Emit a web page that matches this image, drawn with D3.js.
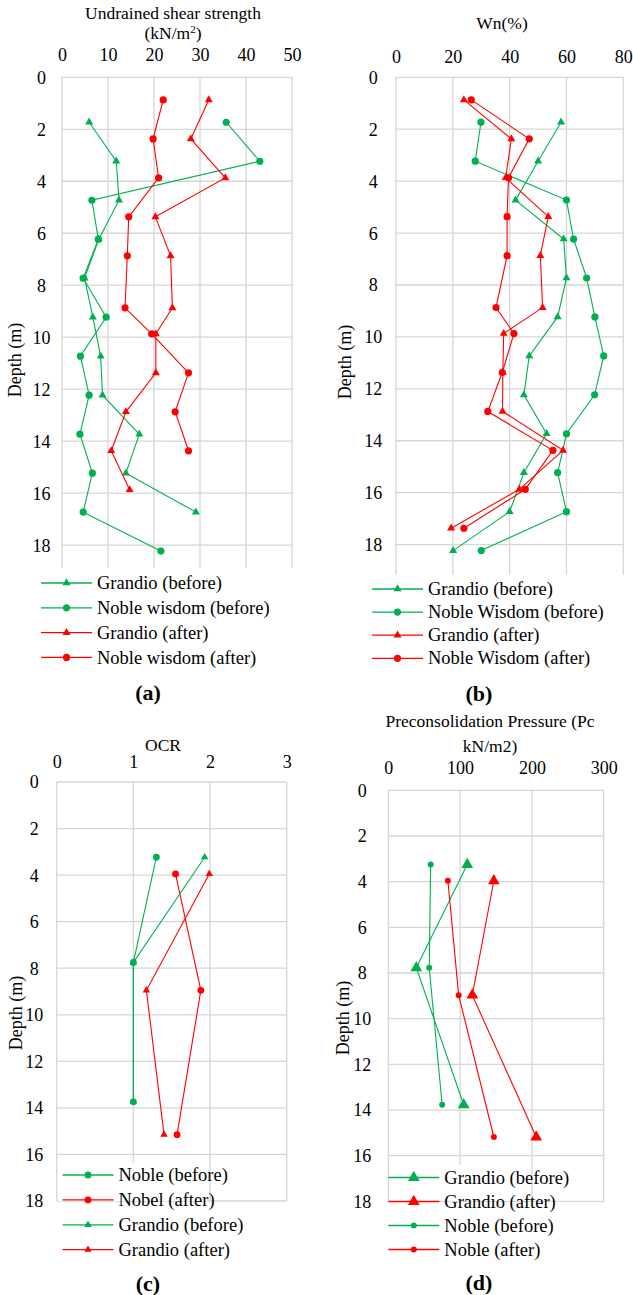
<!DOCTYPE html>
<html>
<head>
<meta charset="utf-8">
<script src="https://cdn.jsdelivr.net/npm/d3@7"></script>
<style>
  body { margin: 0; background: #fff; }
  svg, svg text { font-family: "Liberation Serif", Tinos, "Times New Roman", "DejaVu Serif", serif; }
</style>
</head>
<body>
<svg width="633" height="1295"></svg>
<script>
// ---- data ----
const depthTicks = [0, 2, 4, 6, 8, 10, 12, 14, 16, 18];

// (a) undrained shear strength
const depthBeforeA = [1.73, 3.23, 4.73, 6.23, 7.73, 9.23, 10.73, 12.23, 13.73, 15.23, 16.73, 18.23];
const depthAfterA = [0.87, 2.37, 3.87, 5.37, 6.87, 8.87, 9.87, 11.37, 12.87, 14.37, 15.87];
const suGrandioBefore = [5.9, 11.8, 12.4, 8.0, 4.9, 6.7, 8.4, 8.8, 16.8, 13.9, 29.1];
const suNobleBefore = [35.7, 43.0, 6.5, 7.9, 4.6, 9.6, 4.0, 5.9, 3.9, 6.6, 4.6, 21.5];
const suGrandioAfter = [31.9, 28.0, 35.5, 20.3, 23.6, 24.0, 20.4, 20.4, 13.9, 10.7, 14.7];
const suNobleAfter = [22.0, 19.8, 21.0, 14.5, 14.2, 13.7, 19.5, 27.5, 24.6, 27.5];
const suTicks = [0, 10, 20, 30, 40, 50];

// (b) water content
const depthBeforeB = [1.73, 3.23, 4.73, 6.23, 7.73, 9.23, 10.73, 12.23, 13.73, 15.23, 16.73, 18.23];
const depthAfterB = [0.87, 2.37, 3.87, 5.37, 6.87, 8.87, 9.87, 11.37, 12.87, 14.37, 15.87, 17.37];
const wnGrandioBefore = [58.1, 50.0, 42.1, 59.0, 60.0, 56.9, 46.9, 45.0, 53.0, 45.0, 40.0, 20.1];
const wnNobleBefore = [29.9, 27.9, 60.0, 62.5, 67.1, 70.0, 73.1, 69.9, 60.0, 56.9, 60.0, 30.0];
const wnGrandioAfter = [23.9, 40.6, 38.6, 53.6, 50.8, 51.6, 37.9, 37.6, 37.5, 58.8, 43.4, 19.4];
const wnNobleAfter = [26.5, 46.9, 39.6, 39.1, 39.1, 35.2, 41.5, 37.4, 32.3, 55.2, 45.5, 23.9];
const wnTicks = [0, 20, 40, 60, 80];

// (c) OCR
const depthBeforeC = [3.23, 7.75, 13.74];
const depthAfterC = [3.95, 8.95, 15.15];
const ocrNobleBefore = [1.30, 1.0, 1.0];
const ocrGrandioBefore = [1.93, 1.0, 1.0];
const ocrNobleAfter = [1.55, 1.88, 1.57];
const ocrGrandioAfter = [1.99, 1.17, 1.40];
const ocrTicks = [0, 1, 2, 3];

// (d) preconsolidation pressure
const depthBeforeD = [3.25, 7.77, 13.77];
const depthAfterD = [3.96, 8.97, 15.18];
const pcGrandioBefore = [110, 39, 105];
const pcGrandioAfter = [147, 117, 206];
const pcNobleBefore = [59, 57, 75];
const pcNobleAfter = [83, 98, 147];
const pcTicks = [0, 100, 200, 300];

const GREEN = "#00b050";
const RED = "#ff0000";
const GRID = "#d6d6d6";
const FONT = "'Liberation Serif', Tinos, 'Times New Roman', 'DejaVu Serif', serif";

const svg = d3.select("svg").attr("font-family", FONT);

function pts(values, depths) {
    return values.map((v, i) => ({v: v, d: depths[i]}));
}

function drawPanel(p) {
    const g = svg.append("g");
    const x = d3.scaleLinear().domain([p.xTicks[0], p.xTicks[p.xTicks.length - 1]]).range([p.left, p.right]);
    const y = d3.scaleLinear().domain([0, p.yMax]).range([p.top, p.bottom]);

    // grid
    g.selectAll(".vg").data(p.xTicks).join("line")
        .attr("x1", d => x(d)).attr("x2", d => x(d))
        .attr("y1", p.top).attr("y2", p.bottom)
        .attr("stroke", GRID).attr("stroke-width", 1.3);
    g.selectAll(".hg").data(depthTicks.filter(d => d <= p.yMax)).join("line")
        .attr("x1", p.left).attr("x2", p.right)
        .attr("y1", d => y(d)).attr("y2", d => y(d))
        .attr("stroke", GRID).attr("stroke-width", 1.3);

    // axes labels
    const fmt = d3.format("d");
    const top = g.append("g").attr("transform", `translate(0,${p.top})`)
        .call(d3.axisTop(x).tickValues(p.xTicks).tickFormat(fmt).tickSize(0).tickPadding(p.topPad));
    const left = g.append("g").attr("transform", `translate(${p.left},0)`)
        .call(d3.axisLeft(y).tickValues(depthTicks).tickFormat(fmt).tickSize(0));
    [top, left].forEach(a => {
        a.attr("font-family", FONT).attr("font-size", 18);
        a.select(".domain").remove();
        a.selectAll("text").attr("fill", "#000");
    });
    left.selectAll("text").attr("text-anchor", "middle").attr("x", -p.leftOff).attr("dy", "0.33em");

    // titles
    p.title.forEach((t, i) => {
        const tx = g.append("text").attr("x", p.titleX).attr("y", p.titleY[i])
            .attr("text-anchor", "middle").attr("font-size", 17.5);
        t.forEach(part => {
            const s = tx.append("tspan").text(part.s);
            if (part.sup) s.attr("baseline-shift", "super").attr("font-size", 11);
        });
    });
    g.append("text")
        .attr("transform", `translate(${p.depthX},${p.depthY}) rotate(-90)`)
        .attr("text-anchor", "middle").attr("dy", "0.33em")
        .attr("font-size", 18).text("Depth (m)");

    // series
    const line = d3.line().x(d => x(d.v)).y(d => y(d.d));
    p.series.forEach(s => {
        const data = pts(s.values, s.depths);
        g.append("path").attr("d", line(data))
            .attr("fill", "none").attr("stroke", s.color).attr("stroke-width", 1.1);
        drawMarkers(g, data.map(d => [x(d.v), y(d.d)]), s);
    });

    // legend
    const lg = g.append("g");
    if (p.legendBg) {
        lg.append("rect").attr("x", p.legendBg[0]).attr("y", p.legendBg[1])
            .attr("width", p.legendBg[2]).attr("height", p.legendBg[3]).attr("fill", "#fff");
    }
    p.legend.forEach((k, i) => {
        const s = p.series[k];
        const ly = p.legendY + i * p.legendStep;
        lg.append("line").attr("x1", p.legendX).attr("x2", p.legendX + 51)
            .attr("y1", ly).attr("y2", ly).attr("stroke", s.color).attr("stroke-width", 1.3);
        drawMarkers(lg, [[p.legendX + 25.5, ly]], s);
        lg.append("text").attr("x", p.legendX + 56).attr("y", ly).attr("dy", "0.33em")
            .attr("font-size", 18.5).text(s.name);
    });

    g.append("text").attr("x", p.capX).attr("y", p.capY).attr("dy", "0.35em")
        .attr("text-anchor", "middle").attr("font-size", 22).attr("font-weight", "bold")
        .text(p.caption);
}

function drawMarkers(g, xy, s) {
    if (s.shape === "circle") {
        g.selectAll(null).data(xy).join("circle")
            .attr("cx", d => d[0]).attr("cy", d => d[1]).attr("r", s.size)
            .attr("fill", s.color);
    } else {
        const sym = d3.symbol().type(d3.symbolTriangle).size(s.size);
        g.selectAll(null).data(xy).join("path")
            .attr("d", sym).attr("transform", d => `translate(${d[0]},${d[1]})`)
            .attr("fill", s.color);
    }
}

drawPanel({
    left: 62, right: 292, top: 77.3, bottom: 568, yMax: 18.88, xTicks: suTicks,
    topPad: 16, leftOff: 20.5,
    title: [[{s: "Undrained shear strength"}], [{s: "(kN/m"}, {s: "2", sup: true}, {s: ")"}]],
    titleX: 173, titleY: [19, 39],
    depthX: 15, depthY: 360,
    series: [
        {name: "Grandio (before)", values: suGrandioBefore, depths: depthBeforeA, color: GREEN, shape: "tri", size: 28},
        {name: "Noble wisdom (before)", values: suNobleBefore, depths: depthBeforeA, color: GREEN, shape: "circle", size: 3.6},
        {name: "Grandio (after)", values: suGrandioAfter, depths: depthAfterA, color: RED, shape: "tri", size: 28},
        {name: "Noble wisdom (after)", values: suNobleAfter, depths: depthAfterA, color: RED, shape: "circle", size: 3.6}
    ],
    legend: [0, 1, 2, 3], legendX: 41, legendY: 583, legendStep: 24.8,
    caption: "(a)", capX: 148, capY: 692
});

drawPanel({
    left: 396, right: 623.3, top: 77.3, bottom: 575, yMax: 19.17, xTicks: wnTicks,
    topPad: 14, leftOff: 22.7,
    title: [[{s: "Wn(%)"}]],
    titleX: 502, titleY: [29],
    depthX: 345, depthY: 362,
    series: [
        {name: "Grandio (before)", values: wnGrandioBefore, depths: depthBeforeB, color: GREEN, shape: "tri", size: 28},
        {name: "Noble Wisdom (before)", values: wnNobleBefore, depths: depthBeforeB, color: GREEN, shape: "circle", size: 3.6},
        {name: "Grandio (after)", values: wnGrandioAfter, depths: depthAfterB, color: RED, shape: "tri", size: 28},
        {name: "Noble Wisdom (after)", values: wnNobleAfter, depths: depthAfterB, color: RED, shape: "circle", size: 3.6}
    ],
    legend: [0, 1, 2, 3], legendX: 372, legendY: 589, legendStep: 23.1,
    caption: "(b)", capX: 479, capY: 693
});

drawPanel({
    left: 56.7, right: 286.7, top: 782, bottom: 1201, yMax: 18, xTicks: ocrTicks,
    topPad: 14, leftOff: 22.4,
    title: [[{s: "OCR"}]],
    titleX: 163, titleY: [751],
    depthX: 16, depthY: 1013,
    series: [
        {name: "Noble (before)", values: ocrNobleBefore, depths: depthBeforeC, color: GREEN, shape: "circle", size: 3.4},
        {name: "Nobel (after)", values: ocrNobleAfter, depths: depthAfterC, color: RED, shape: "circle", size: 3.4},
        {name: "Grandio (before)", values: ocrGrandioBefore, depths: depthBeforeC, color: GREEN, shape: "tri", size: 24},
        {name: "Grandio (after)", values: ocrGrandioAfter, depths: depthAfterC, color: RED, shape: "tri", size: 24}
    ],
    legend: [0, 1, 2, 3], legendX: 62.5, legendY: 1175, legendStep: 24.9,
    legendBg: [58, 1163, 149, 38],
    caption: "(c)", capX: 148, capY: 1283
});

drawPanel({
    left: 388.3, right: 603.7, top: 790.3, bottom: 1201.4, yMax: 18, xTicks: pcTicks,
    topPad: 16, leftOff: 26,
    title: [[{s: "Preconsolidation Pressure (Pc"}], [{s: "kN/m2)"}]],
    titleX: 490, titleY: [727, 752],
    depthX: 343, depthY: 1018,
    series: [
        {name: "Grandio (before)", values: pcGrandioBefore, depths: depthBeforeD, color: GREEN, shape: "tri", size: 60},
        {name: "Grandio (after)", values: pcGrandioAfter, depths: depthAfterD, color: RED, shape: "tri", size: 60},
        {name: "Noble (before)", values: pcNobleBefore, depths: depthBeforeD, color: GREEN, shape: "circle", size: 3},
        {name: "Noble (after)", values: pcNobleAfter, depths: depthAfterD, color: RED, shape: "circle", size: 3}
    ],
    legend: [0, 1, 2, 3], legendX: 388.3, legendY: 1177.5, legendStep: 24,
    legendBg: [389.5, 1165, 140, 36],
    caption: "(d)", capX: 479, capY: 1282
});
</script>
</body>
</html>
